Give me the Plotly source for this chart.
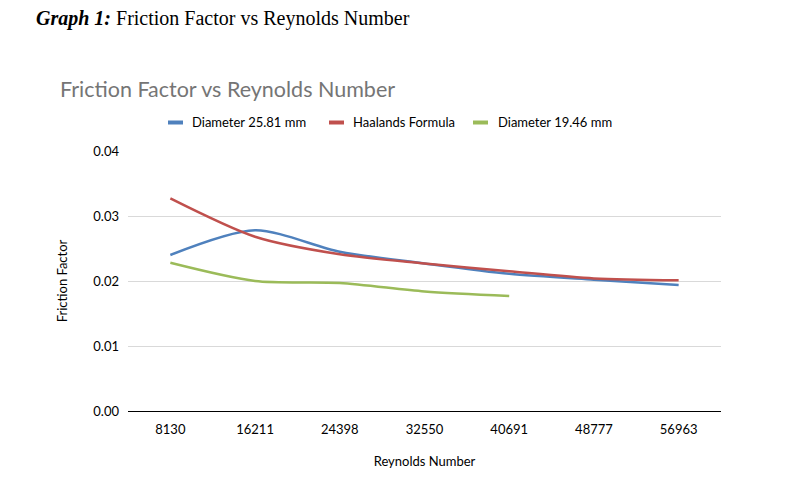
import plotly.graph_objects as go

reynolds = ["8130", "16211", "24398", "32550", "40691", "48777", "56963"]
d2581 = [0.0240, 0.0278, 0.0245, 0.0227, 0.0211, 0.0202, 0.0194]
haaland = [0.0327, 0.0268, 0.0241, 0.0227, 0.0215, 0.0204, 0.0201]
d1946 = [0.0228, 0.0200, 0.0197, 0.0184, 0.0177]

names = ["Diameter 25.81 mm", "Haalands Formula", "Diameter 19.46 mm"]
colors = ["#4F81BD", "#C0504D", "#9BBB59"]
values = [d2581, haaland, d1946]

# page body has an 8px margin; work in reference pixel coords and shift
O = 8
W, H = 796, 481
L, T = 128 - O, 151 - O
R = W - (721 - O)
B = H - (411 - O)
pw, ph = W - L - R, H - T - B


def px_x(x):
    return (x - O - L) / pw


def px_y(y):
    return (H - B - (y - O)) / ph


fig = go.Figure()
for name, ys, col in zip(names, values, colors):
    fig.add_trace(go.Scatter(x=reynolds[:len(ys)], y=ys, name=name, mode="lines",
                             line=dict(color=col, width=2.5, shape="spline", smoothing=0.8),
                             showlegend=False))

font_main = "Lato, Open Sans, sans-serif"

annotations = [
    dict(text="<b><i>Graph 1:</i></b> Friction Factor vs Reynolds Number",
         xref="paper", yref="paper", x=px_x(34), y=px_y(18),
         xanchor="left", yanchor="middle", showarrow=False,
         font=dict(family="Liberation Serif, Times New Roman, serif", size=20, color="#000000")),
    dict(text="Friction Factor vs Reynolds Number",
         xref="paper", yref="paper", x=px_x(58), y=px_y(89),
         xanchor="left", yanchor="middle", showarrow=False,
         font=dict(family=font_main, size=21.5, color="#757575")),
]
shapes = []
legend_sym_x = [168, 329, 473]
legend_txt_x = [190, 351, 496]
legend_y = 122.5
for name, col, sx, tx in zip(names, colors, legend_sym_x, legend_txt_x):
    shapes.append(dict(type="line", xref="paper", yref="paper",
                       x0=px_x(sx), x1=px_x(sx + 15), y0=px_y(legend_y), y1=px_y(legend_y),
                       line=dict(color=col, width=4)))
    annotations.append(dict(text=name, xref="paper", yref="paper",
                            x=px_x(tx), y=px_y(legend_y), xanchor="left", yanchor="middle",
                            showarrow=False, font=dict(family=font_main, size=13, color="#000000")))

fig.update_layout(
    width=W, height=H,
    margin=dict(l=L, r=R, t=T, b=B, autoexpand=False),
    paper_bgcolor="white", plot_bgcolor="white",
    font=dict(family=font_main, size=13, color="#000000"),
    showlegend=False,
    xaxis=dict(type="category", range=[-0.5, len(reynolds) - 0.5],
               showgrid=False, showline=True, linecolor="#000000", linewidth=1,
               ticks="", tickfont=dict(size=13), ticklabelstandoff=6,
               title=dict(text="Reynolds Number", font=dict(size=13), standoff=21),
               zeroline=False),
    yaxis=dict(range=[0, 0.04], dtick=0.01, tickformat=".2f",
               showgrid=True, gridcolor="#D9D9D9", gridwidth=1,
               showline=False, zeroline=False, ticks="",
               tickfont=dict(size=13), ticklabelstandoff=8,
               title=dict(text="Friction Factor", font=dict(size=13), standoff=22)),
    annotations=annotations,
    shapes=shapes,
)

fig.write_html("out.html")
